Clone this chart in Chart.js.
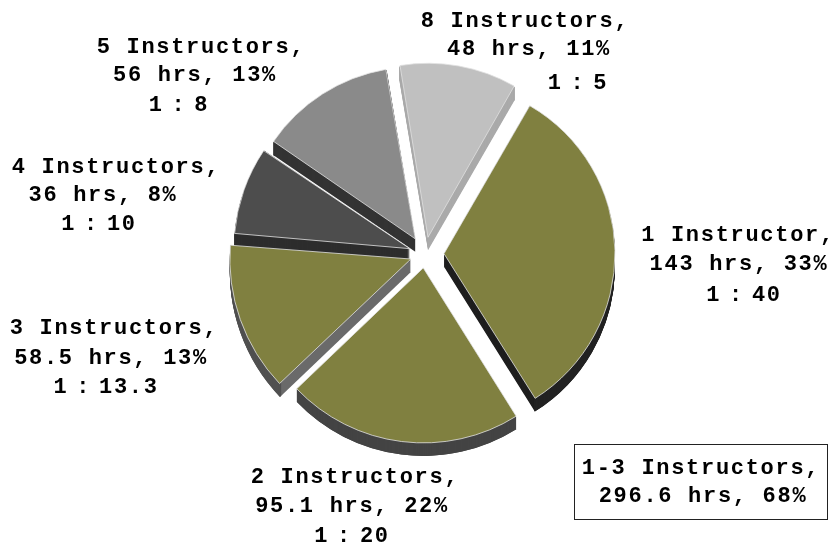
<!DOCTYPE html>
<html>
<head>
<meta charset="utf-8">
<title>Instructors</title>
<script src="https://cdn.jsdelivr.net/npm/chart.js@4"></script>
<style>
    html, body { margin: 0; padding: 0; background: #fff; }
    canvas { display: block; }
</style>
</head>
<body>
<canvas id="pie_chart" width="838" height="546"></canvas>
<script>
var categories = ["1 Instructor", "2 Instructors", "3 Instructors", "4 Instructors", "5 Instructors", "8 Instructors"];
var hours = [143, 95.1, 58.5, 36, 56, 48];
var percents = [33, 22, 13, 8, 13, 11];
var ratios = ["40", "20", "13.3", "10", "8", "5"];
var summaryName = "1-3 Instructors";
var summaryHours = 296.6;
var summaryPercent = 68;

// styles, per slice
var faceColors = ["#808040", "#808040", "#808040", "#4d4d4d", "#8a8a8a", "#c0c0c0"];
var edgeColors = ["#1e1e1e", "#444444", "#6a6a6a", "#2d2d2d", "#333333", "#aaaaaa"];
var rimColors = ["#222222", "#444444", "#505050", "#2d2d2d", "#333333", "#aaaaaa"];
var sliceOffsets = [19, 14, 15, 16, 18, 17];
var sliceRadius = [171, 175, 181, 176, 172, 174];
var depth = 13;

// label line centres [x, y], one block per slice
var labelPlaces = [
    [[738, 235], [739, 264], [744, 295]],
    [[355, 477], [352, 506], [352, 536]],
    [[114, 328], [111, 358], [106, 387]],
    [[116, 167], [103, 195], [99, 224]],
    [[201, 47], [195, 75], [179, 105]],
    [[525, 21], [529, 49], [578, 83]]
];

var sideFaces = {
    id: 'sideFaces',
    beforeDatasetsDraw: function (chart) {
        var ctx = chart.ctx;
        var arcs = chart.getDatasetMeta(0).data;
        ctx.save();
        arcs.forEach(function (arc, i) {
            // arc.draw grows small slices by offset * (1 - sin(circumference)), take that back
            var fix = 1 - Math.sin(Math.min(Math.PI, arc.circumference));
            arc.outerRadius = sliceRadius[i] - sliceOffsets[i] * fix;
            var r = sliceRadius[i];
            var mid = (arc.startAngle + arc.endAngle) / 2;
            var x = arc.x + Math.cos(mid) * sliceOffsets[i];
            var y = arc.y + Math.sin(mid) * sliceOffsets[i];
            for (var d = depth; d >= 1; d--) {
                ctx.fillStyle = edgeColors[i];
                ctx.beginPath();
                ctx.moveTo(x, y + d);
                ctx.arc(x, y + d, r, arc.startAngle, arc.endAngle);
                ctx.closePath();
                ctx.fill();
            }
            for (var k = depth; k >= 1; k--) {
                ctx.strokeStyle = rimColors[i];
                ctx.lineWidth = 2;
                ctx.beginPath();
                ctx.arc(x, y + k, r - 1, arc.startAngle, arc.endAngle);
                ctx.stroke();
            }
        });
        ctx.restore();
    }
};

function putLine(ctx, text, place, squeeze) {
    ctx.wordSpacing = squeeze ? '-7px' : '0px';
    ctx.fillText(text, place[0], place[1]);
}

var sliceLabels = {
    id: 'sliceLabels',
    afterDraw: function (chart) {
        var ctx = chart.ctx;
        ctx.save();
        ctx.font = 'bold 22px "Liberation Mono"';
        ctx.letterSpacing = '1.7px';
        ctx.fillStyle = '#000';
        ctx.textAlign = 'center';
        ctx.textBaseline = 'middle';
        categories.forEach(function (name, i) {
            putLine(ctx, name + ",", labelPlaces[i][0]);
            putLine(ctx, hours[i] + " hrs, " + percents[i] + "%", labelPlaces[i][1]);
            putLine(ctx, "1 : " + ratios[i], labelPlaces[i][2], true);
        });
        ctx.strokeStyle = '#222';
        ctx.lineWidth = 1;
        ctx.strokeRect(574.5, 444.5, 253, 75);
        putLine(ctx, summaryName + ",", [701, 468]);
        putLine(ctx, summaryHours + " hrs, " + summaryPercent + "%", [703, 496]);
        ctx.restore();
    }
};

new Chart(document.getElementById("pie_chart").getContext("2d"), {
    type: 'pie',
    data: {
        labels: categories,
        datasets: [{
            data: hours,
            backgroundColor: faceColors,
            borderColor: 'rgba(225, 225, 225, 0.8)',
            borderWidth: 1,
            // the arc element moves by a quarter of its offset option
            offset: sliceOffsets.map(function (o) { return o * 4; })
        }]
    },
    options: {
        responsive: false,
        animation: false,
        rotation: 30,
        radius: 172,
        layout: { padding: { left: 12, bottom: 38 } },
        plugins: {
            legend: { display: false },
            tooltip: { enabled: false }
        }
    },
    plugins: [sideFaces, sliceLabels]
});
</script>
</body>
</html>
